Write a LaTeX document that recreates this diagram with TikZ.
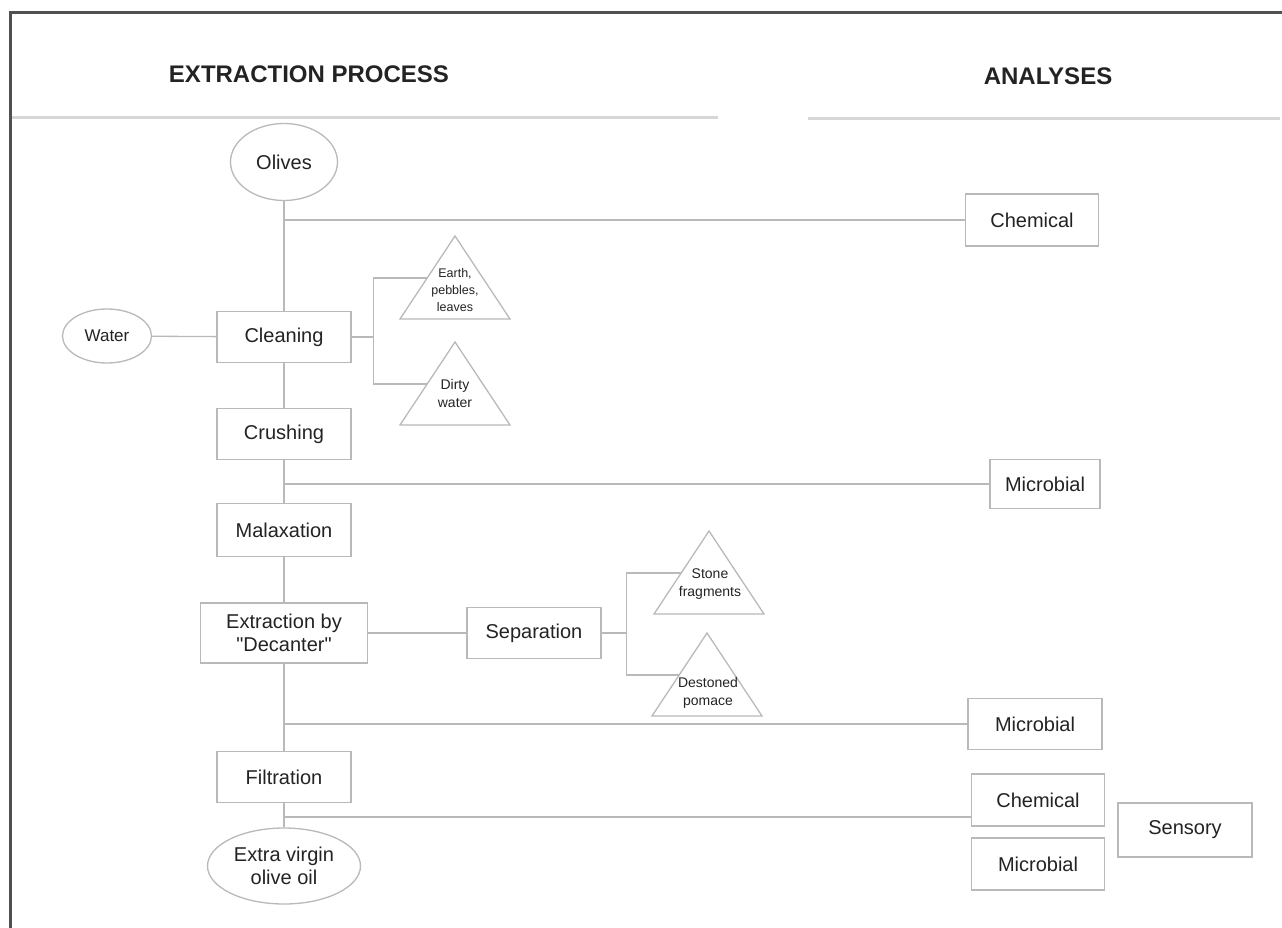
\documentclass[tikz,border=0pt]{standalone}
\usepackage{fontspec}
\setmainfont{Liberation Sans}[Ligatures=TeXOff]
\usepackage{xcolor}
\definecolor{edgegray}{RGB}{185,185,185}
\definecolor{rulegray}{RGB}{215,215,215}
\definecolor{framegray}{RGB}{80,80,80}
\definecolor{inkgray}{RGB}{35,35,35}
\usetikzlibrary{shapes.geometric,calc}

\begin{document}
\begin{tikzpicture}[
  x=1pt, y=-1pt,
  stage/.style={draw=edgegray, line width=1.3pt, fill=white, text=inkgray,
                align=center, inner sep=2pt, minimum width=134pt,
                minimum height=51pt, font=\fontsize{20}{23}\selectfont},
  blob/.style={stage, ellipse, inner sep=0pt},
  waste/.style={text=inkgray, align=center, font=\fontsize{14}{18}\selectfont},
  tri/.style={draw=edgegray, line width=1.3pt, line join=miter},
  link/.style={draw=edgegray, line width=1.3pt},
  head/.style={text=inkgray, font=\bfseries\fontsize{24}{28}\selectfont}
]
\useasboundingbox (0,0) rectangle (1282,928);
\draw[framegray, line width=3pt] (10,928) -- (10,13) -- (1282,13);

\node[head] (hproc) at (309,74) {EXTRACTION PROCESS};
\node[head] (hana)  at (1048,76) {ANALYSES};
\draw[rulegray, line width=3pt] (12,118) -- (718,118);
\draw[rulegray, line width=3pt] (808,119) -- (1280,119);

% extraction column
\node[blob, minimum width=107pt, minimum height=77pt] (olives) at (284,162) {Olives};
\node[blob, minimum width=89pt, minimum height=54pt,
      font=\fontsize{17}{20}\selectfont] (water) at (107,336) {Water};
\node[stage] (clean) at (284,337) {Cleaning};
\node[stage] (crush) at (284,434) {Crushing};
\node[stage, minimum height=53pt] (malax) at (284,530) {Malaxation};
\node[stage, minimum width=167pt, minimum height=60pt] (decant) at (284,633) {Extraction by\\"Decanter"};
\node[stage] (separ) at (534,633) {Separation};
\node[stage] (filtr) at (284,777) {Filtration};
\node[blob, minimum width=153pt, minimum height=76pt] (evoo) at (284,866) {Extra virgin\\olive oil};

% analyses column
\node[stage, minimum width=133pt, minimum height=52pt] (chemA)  at (1032,220) {Chemical};
\node[stage, minimum width=110pt, minimum height=49pt] (microA) at (1045,484) {Microbial};
\node[stage] (microB) at (1035,724) {Microbial};
\node[stage, minimum width=133pt, minimum height=52pt] (chemC)  at (1038,800) {Chemical};
\node[stage, minimum width=133pt, minimum height=52pt] (microC) at (1038,864) {Microbial};
\node[stage, minimum height=54pt] (senso) at (1185,830) {Sensory};

% by-products
\foreach \tip/\ax/\ay in {earth/455/236, dirty/455/342, stone/709/531, pomace/707/633}{
  \draw[tri] (\ax,\ay) -- ++(-55,83) -- ++(110,0) -- cycle;
  \coordinate (\tip) at (\ax-28,\ay+42);
}
\node[waste, font=\fontsize{12.5}{17}\selectfont] (earthtxt) at (455,290) {Earth,\\pebbles,\\leaves};
\node[waste] (dirtytxt)  at (455,393) {Dirty\\water};
\node[waste] (stonetxt)  at (710,584) {Stone\\fragments};
\node[waste] (pomacetxt) at (708,693) {Destoned\\pomace};

\draw[link] (olives) -- (clean);
\draw[link] (clean) -- (crush);
\draw[link] (crush) -- (malax);
\draw[link] (malax) -- (decant);
\draw[link] (decant) -- (filtr);
\draw[link] (filtr) -- (evoo);
\draw[link] (water) -- (clean);
\draw[link] (decant) -- (separ);

\draw[link] (clean.east) -- ++(22,0) coordinate (cfork);
\draw[link] (earth) -| (cfork) |- (dirty);
\draw[link] (separ.east) -- ++(25,0) coordinate (sfork);
\draw[link] (stone) -| (sfork) |- (pomace);

\draw[link] (olives.south |- chemA) -- (chemA);
\draw[link] (crush.south |- microA) -- (microA);
\draw[link] (decant.south |- microB) -- (microB);
\coordinate (tap) at (284,817);
\draw[link] (tap) -- (tap -| chemC.west);
\end{tikzpicture}
\end{document}
